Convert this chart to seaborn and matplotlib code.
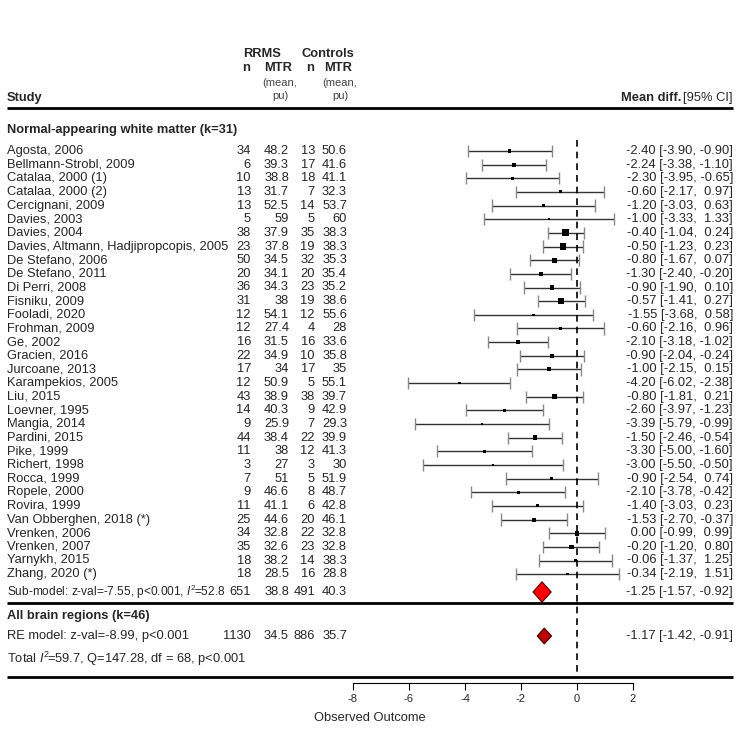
import matplotlib
matplotlib.use("Agg")
import matplotlib.pyplot as plt
import seaborn as sns
import pandas as pd
import numpy as np

# Datos del forest plot
studies = [
    "Agosta, 2006", "Bellmann-Strobl, 2009", "Catalaa, 2000 (1)", "Catalaa, 2000 (2)",
    "Cercignani, 2009", "Davies, 2003", "Davies, 2004",
    "Davies, Altmann, Hadjipropcopis, 2005", "De Stefano, 2006", "De Stefano, 2011",
    "Di Perri, 2008", "Fisniku, 2009", "Fooladi, 2020", "Frohman, 2009", "Ge, 2002",
    "Gracien, 2016", "Jurcoane, 2013", "Karampekios, 2005", "Liu, 2015", "Loevner, 1995",
    "Mangia, 2014", "Pardini, 2015", "Pike, 1999", "Richert, 1998", "Rocca, 1999",
    "Ropele, 2000", "Rovira, 1999", "Van Obberghen, 2018 (*)", "Vrenken, 2006",
    "Vrenken, 2007", "Yarnykh, 2015", "Zhang, 2020 (*)",
]
n_rrms = [34, 6, 10, 13, 13, 5, 38, 23, 50, 20, 36, 31, 12, 12, 16, 22, 17, 12, 43, 14,
          9, 44, 11, 3, 7, 9, 11, 25, 34, 35, 18, 18]
mtr_rrms = [48.2, 39.3, 38.8, 31.7, 52.5, 59, 37.9, 37.8, 34.5, 34.1, 34.3, 38, 54.1, 27.4,
            31.5, 34.9, 34, 50.9, 38.9, 40.3, 25.9, 38.4, 38, 27, 51, 46.6, 41.1, 44.6,
            32.8, 32.6, 38.2, 28.5]
n_ctrl = [13, 17, 18, 7, 14, 5, 35, 19, 32, 20, 23, 19, 12, 4, 16, 10, 17, 5, 38, 9,
          7, 22, 12, 3, 5, 8, 6, 20, 22, 23, 14, 16]
mtr_ctrl = [50.6, 41.6, 41.1, 32.3, 53.7, 60, 38.3, 38.3, 35.3, 35.4, 35.2, 38.6, 55.6, 28,
            33.6, 35.8, 35, 55.1, 39.7, 42.9, 29.3, 39.9, 41.3, 30, 51.9, 48.7, 42.8, 46.1,
            32.8, 32.8, 38.3, 28.8]
md = [-2.40, -2.24, -2.30, -0.60, -1.20, -1.00, -0.40, -0.50, -0.80, -1.30, -0.90, -0.57,
      -1.55, -0.60, -2.10, -0.90, -1.00, -4.20, -0.80, -2.60, -3.39, -1.50, -3.30, -3.00,
      -0.90, -2.10, -1.40, -1.53, 0.00, -0.20, -0.06, -0.34]
ci_lo = [-3.90, -3.38, -3.95, -2.17, -3.03, -3.33, -1.04, -1.23, -1.67, -2.40, -1.90, -1.41,
         -3.68, -2.16, -3.18, -2.04, -2.15, -6.02, -1.81, -3.97, -5.79, -2.46, -5.00, -5.50,
         -2.54, -3.78, -3.03, -2.70, -0.99, -1.20, -1.37, -2.19]
ci_hi = [-0.90, -1.10, -0.65, 0.97, 0.63, 1.33, 0.24, 0.23, 0.07, -0.20, 0.10, 0.27,
         0.58, 0.96, -1.02, 0.24, 0.15, -2.38, 0.21, -1.23, -0.99, -0.54, -1.60, -0.50,
         0.74, -0.42, 0.23, -0.37, 0.99, 0.80, 1.25, 1.51]
# texto tal como aparece impreso (Gracien muestra -0.24)
ci_text = [
    "-2.40 [-3.90, -0.90]", "-2.24 [-3.38, -1.10]", "-2.30 [-3.95, -0.65]",
    "-0.60 [-2.17,  0.97]", "-1.20 [-3.03,  0.63]", "-1.00 [-3.33,  1.33]",
    "-0.40 [-1.04,  0.24]", "-0.50 [-1.23,  0.23]", "-0.80 [-1.67,  0.07]",
    "-1.30 [-2.40, -0.20]", "-0.90 [-1.90,  0.10]", "-0.57 [-1.41,  0.27]",
    "-1.55 [-3.68,  0.58]", "-0.60 [-2.16,  0.96]", "-2.10 [-3.18, -1.02]",
    "-0.90 [-2.04, -0.24]", "-1.00 [-2.15,  0.15]", "-4.20 [-6.02, -2.38]",
    "-0.80 [-1.81,  0.21]", "-2.60 [-3.97, -1.23]", "-3.39 [-5.79, -0.99]",
    "-1.50 [-2.46, -0.54]", "-3.30 [-5.00, -1.60]", "-3.00 [-5.50, -0.50]",
    "-0.90 [-2.54,  0.74]", "-2.10 [-3.78, -0.42]", "-1.40 [-3.03,  0.23]",
    "-1.53 [-2.70, -0.37]", " 0.00 [-0.99,  0.99]", "-0.20 [-1.20,  0.80]",
    "-0.06 [-1.37,  1.25]", "-0.34 [-2.19,  1.51]",
]

# Modelos resumen
sub_est, sub_lo, sub_hi = -1.25, -1.57, -0.92
sub_counts = [651, 38.8, 491, 40.3]
re_est, re_lo, re_hi = -1.17, -1.42, -0.91
re_counts = [1130, 34.5, 886, 35.7]

# Geometria: 28 px por unidad, 0 en el pixel 577; filas de 13.65 px desde y=151
PXU, X0 = 28.0, 577.0
ROW0, ROWH = 151.0, 13.65


def X(px):
    return (px - X0) / PXU


def R(py):
    return (py - ROW0) / ROWH


sns.set_theme(style="white")
plt.rcParams["font.family"] = ["Liberation Sans", "DejaVu Sans"]
plt.rcParams["mathtext.fontset"] = "custom"
plt.rcParams["mathtext.rm"] = "Liberation Sans"
plt.rcParams["mathtext.it"] = "Liberation Sans:italic"

FS = 9.3
fig = plt.figure(figsize=(7.4, 7.33), dpi=100)
bottom_px = 683
ax = fig.add_axes([0, (733 - bottom_px) / 733, 1, bottom_px / 733])
ax.set_xlim(X(0), X(740))
ax.set_ylim(R(bottom_px), R(0))

df = pd.DataFrame({"study": studies, "md": md, "lo": ci_lo, "hi": ci_hi})
df["row"] = np.arange(len(df))
df["w"] = 1 / ((df["hi"] - df["lo"]) / 3.92) ** 2

# intervalos de confianza
ax.hlines(df["row"], df["lo"], df["hi"], color="#333333", lw=1.0)
ax.vlines(df["lo"], df["row"] - 0.45, df["row"] + 0.45, color="#888888", lw=1.0)
ax.vlines(df["hi"], df["row"] - 0.45, df["row"] + 0.45, color="#888888", lw=1.0)

sns.scatterplot(data=df, x="md", y="row", size="w", sizes=(2, 26), marker="s",
                color="black", linewidth=0, legend=False, ax=ax, zorder=3)

# diamantes
sub_row = R(592)
re_row = R(636)
ax.fill([sub_lo, sub_est, sub_hi, sub_est], [sub_row, sub_row - 0.75, sub_row, sub_row + 0.75],
        facecolor="#FF0000", edgecolor="#5a0000", lw=0.8, zorder=3)
ax.fill([re_lo, re_est, re_hi, re_est], [re_row, re_row - 0.58, re_row, re_row + 0.58],
        facecolor="#C00000", edgecolor="#3a0000", lw=0.8, zorder=3)

# linea de referencia
ax.vlines(0, R(140), R(677), color="black", lw=1.2, linestyles=(0, (4, 3)))

# lineas horizontales
for py in [108, 603, 677]:
    ax.hlines(R(py), X(7), X(733), color="black", lw=2.0)

# columnas de texto
col_x = [X(251), X(289), X(315), X(347)]
for i, s in enumerate(studies):
    ax.text(X(7), i, s, ha="left", va="center", fontsize=FS)
    vals = [n_rrms[i], mtr_rrms[i], n_ctrl[i], mtr_ctrl[i]]
    for cx, v in zip(col_x, vals):
        ax.text(cx, i, f"{v:g}", ha="right", va="center", fontsize=FS)
    ax.text(X(733), i, ci_text[i], ha="right", va="center", fontsize=FS)

ax.text(X(7), sub_row, r"Sub-model: z-val=-7.55, p<0.001, $\mathit{I}^2\!$=52.8",
        ha="left", va="center", fontsize=8.6)
for cx, v in zip(col_x, sub_counts):
    ax.text(cx, sub_row, f"{v:g}", ha="right", va="center", fontsize=FS)
ax.text(X(733), sub_row, f"{sub_est:.2f} [{sub_lo:.2f}, {sub_hi:.2f}]",
        ha="right", va="center", fontsize=FS)

ax.text(X(7), R(616), "All brain regions (k=46)", ha="left", va="center",
        fontsize=FS, fontweight="bold")
ax.text(X(7), re_row, "RE model: z-val=-8.99, p<0.001", ha="left", va="center", fontsize=FS)
for cx, v in zip(col_x, re_counts):
    ax.text(cx, re_row, f"{v:g}", ha="right", va="center", fontsize=FS)
ax.text(X(733), re_row, f"{re_est:.2f} [{re_lo:.2f}, {re_hi:.2f}]",
        ha="right", va="center", fontsize=FS)
ax.text(X(7), R(659), r"Total $\mathit{I}^2\!$=59.7, Q=147.28, df = 68, p<0.001",
        ha="left", va="center", fontsize=FS)

# cabeceras
ax.text(X(7), R(130), "Normal-appearing white matter (k=31)", ha="left", va="center",
        fontsize=FS, fontweight="bold")
ax.text(X(7), R(98), "Study", ha="left", va="center", fontsize=FS, fontweight="bold")
ax.text(X(262), R(54), "RRMS", ha="center", va="center", fontsize=FS, fontweight="bold")
ax.text(X(328), R(54), "Controls", ha="center", va="center", fontsize=FS, fontweight="bold")
for cx, lab in [(X(246), "n"), (X(278), "MTR"), (X(310), "n"), (X(338), "MTR")]:
    ax.text(cx, R(68), lab, ha="center", va="center", fontsize=FS, fontweight="bold")
for cx in [X(280), X(340)]:
    ax.text(cx, R(83), "(mean,", ha="center", va="center", fontsize=8, color="#444444")
    ax.text(cx, R(96), "pu)", ha="center", va="center", fontsize=8, color="#444444")
ax.text(X(733), R(98), "[95% CI]", ha="right", va="center", fontsize=FS)
ax.text(X(681), R(98), "Mean diff.", ha="right", va="center", fontsize=FS, fontweight="bold")

# eje x
for side in ["top", "left", "right"]:
    ax.spines[side].set_visible(False)
ax.spines["bottom"].set_bounds(-8, 2)
ax.spines["bottom"].set_color("black")
ax.spines["bottom"].set_linewidth(0.8)
ax.set_yticks([])
ax.set_xticks(np.arange(-8, 3, 2))
ax.set_xticklabels([f"{t}" for t in range(-8, 3, 2)])
ax.tick_params(axis="x", direction="out", length=5, width=0.8, color="black",
               labelsize=8, pad=3, bottom=True)
ax.set_xlabel("Observed Outcome", fontsize=FS, labelpad=6)
ax.set_ylabel("")
ax.grid(False)

fig.savefig("out.png", dpi=100)
